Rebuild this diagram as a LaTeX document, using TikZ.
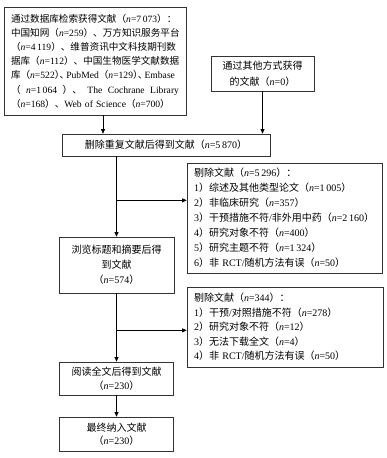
\documentclass[tikz,border=0pt]{standalone}
\usepackage{fontspec}
\setmainfont{Liberation Serif}
\newfontfamily\cjk{Noto Sans CJK SC}
\usetikzlibrary{arrows.meta}

% Cambio automatico de fuente para caracteres CJK
\newXeTeXintercharclass\cjkclass
\newcount\cjkcnt
\cjkcnt="2E80
\loop
  \XeTeXcharclass\cjkcnt=\cjkclass
  \advance\cjkcnt by 1
\ifnum\cjkcnt<"A000 \repeat
\cjkcnt="FF00
\loop
  \XeTeXcharclass\cjkcnt=\cjkclass
  \advance\cjkcnt by 1
\ifnum\cjkcnt<"FFF0 \repeat
\XeTeXinterchartoks 0 \cjkclass = {\begingroup\cjk}
\XeTeXinterchartoks 4095 \cjkclass = {\begingroup\cjk}
\XeTeXinterchartoks \cjkclass 0 = {\endgroup}
\XeTeXinterchartoks \cjkclass 4095 = {\endgroup}
\XeTeXinterchartokenstate=1

\begin{document}
\begin{tikzpicture}[
    x=1pt, y=-1pt,
    % Estilos de las cajas
    box/.style={draw=black!80, line width=0.7pt, inner sep=0pt,
        align=center, font=\fontsize{10}{15}\selectfont},
    exclbox/.style={box, align=left},
    % Estilo de las flechas
    arr/.style={-{Triangle[length=4.5pt, width=4pt]}, line width=0.7pt}
]
\useasboundingbox (0,0) rectangle (387,458);

% ==========================================
% IDENTIFICACION
% ==========================================
\node[box, minimum width=182pt, minimum height=108pt, text width=168pt,
    align=left, font=\fontsize{9.6}{14.2}\selectfont] (db) at (95,61) {%
通过数据库检索获得文献（\textit{n}=7\,073）：\\
中国知网（\textit{n}=259）、万方知识服务平台\\
（\textit{n}=4\,119）、维普资讯中文科技期刊数\\
据库（\textit{n}=112）、中国生物医学文献数据\\
库（\textit{n}=522）\kern-.5em、\kern-.3em PubMed（\textit{n}=129）\kern-.5em、\kern-.3em Embase\\
（\hfill\textit{n}=1\,064\hfill）、\hfill The\hfill Cochrane\hfill Library\\
（\textit{n}=168）、Web of Science（\textit{n}=700）};

\node[box, minimum width=103pt, minimum height=35pt,
    font=\fontsize{10}{16}\selectfont] (other) at (262.5,73.5)
    {通过其他方式获得\\的文献（\textit{n}=0）};

\node[box, minimum width=208pt, minimum height=22pt] (dedup) at (166,145)
    {删除重复文献后得到文献（\textit{n}=5\,870）};

% ==========================================
% CRIBADO
% ==========================================
\node[box, minimum width=115pt, minimum height=56pt] (screen) at (116.5,265)
    {浏览标题和摘要后得\\到文献\\（\textit{n}=574）};

\node[exclbox, minimum width=195pt, minimum height=110pt, text width=181pt]
    (excl1) at (284.5,218) {%
剔除文献（\textit{n}=5\,296）：\\
1）综述及其他类型论文（\textit{n}=1\,005）\\
2）非临床研究（\textit{n}=357）\\
3）干预措施不符/非外用中药（\textit{n}=2\,160）\\
4）研究对象不符（\textit{n}=400）\\
5）研究主题不符（\textit{n}=1\,324）\\
6）非 RCT/随机方法有误（\textit{n}=50）};

\node[exclbox, minimum width=196pt, minimum height=80pt, text width=182pt,
    font=\fontsize{10}{14.5}\selectfont] (excl2) at (285,327) {%
剔除文献（\textit{n}=344）：\\
1）干预/对照措施不符（\textit{n}=278）\\
2）研究对象不符（\textit{n}=12）\\
3）无法下载全文（\textit{n}=4）\\
4）非 RCT/随机方法有误（\textit{n}=50）};

% ==========================================
% INCLUSION
% ==========================================
\node[box, minimum width=114pt, minimum height=33pt,
    font=\fontsize{10}{14}\selectfont] (fulltext) at (116.5,378.5)
    {阅读全文后得到文献\\（\textit{n}=230）};

\node[box, minimum width=114pt, minimum height=34pt,
    font=\fontsize{10}{13.5}\selectfont] (final) at (116.5,434)
    {最终纳入文献\\（\textit{n}=230）};

% ==========================================
% FLECHAS
% ==========================================
\draw[arr] ([xshift=8pt]db.south) -- ([xshift=8pt]db.south |- dedup.north);
\draw[arr] (other.south) -- (other.south |- dedup.north);
\draw[arr] (dedup.south -| screen.north) -- (screen.north);
\path (dedup.south -| screen.north) ++(0,44) coordinate (b1);
\draw[arr] (b1) -- (b1 -| excl1.west);
\draw[arr] (screen.south) -- (fulltext.north);
\path (screen.south) ++(0,37) coordinate (b2);
\draw[arr] (b2) -- (b2 -| excl2.west);
\draw[arr] (fulltext.south) -- (final.north);

\end{tikzpicture}
\end{document}
